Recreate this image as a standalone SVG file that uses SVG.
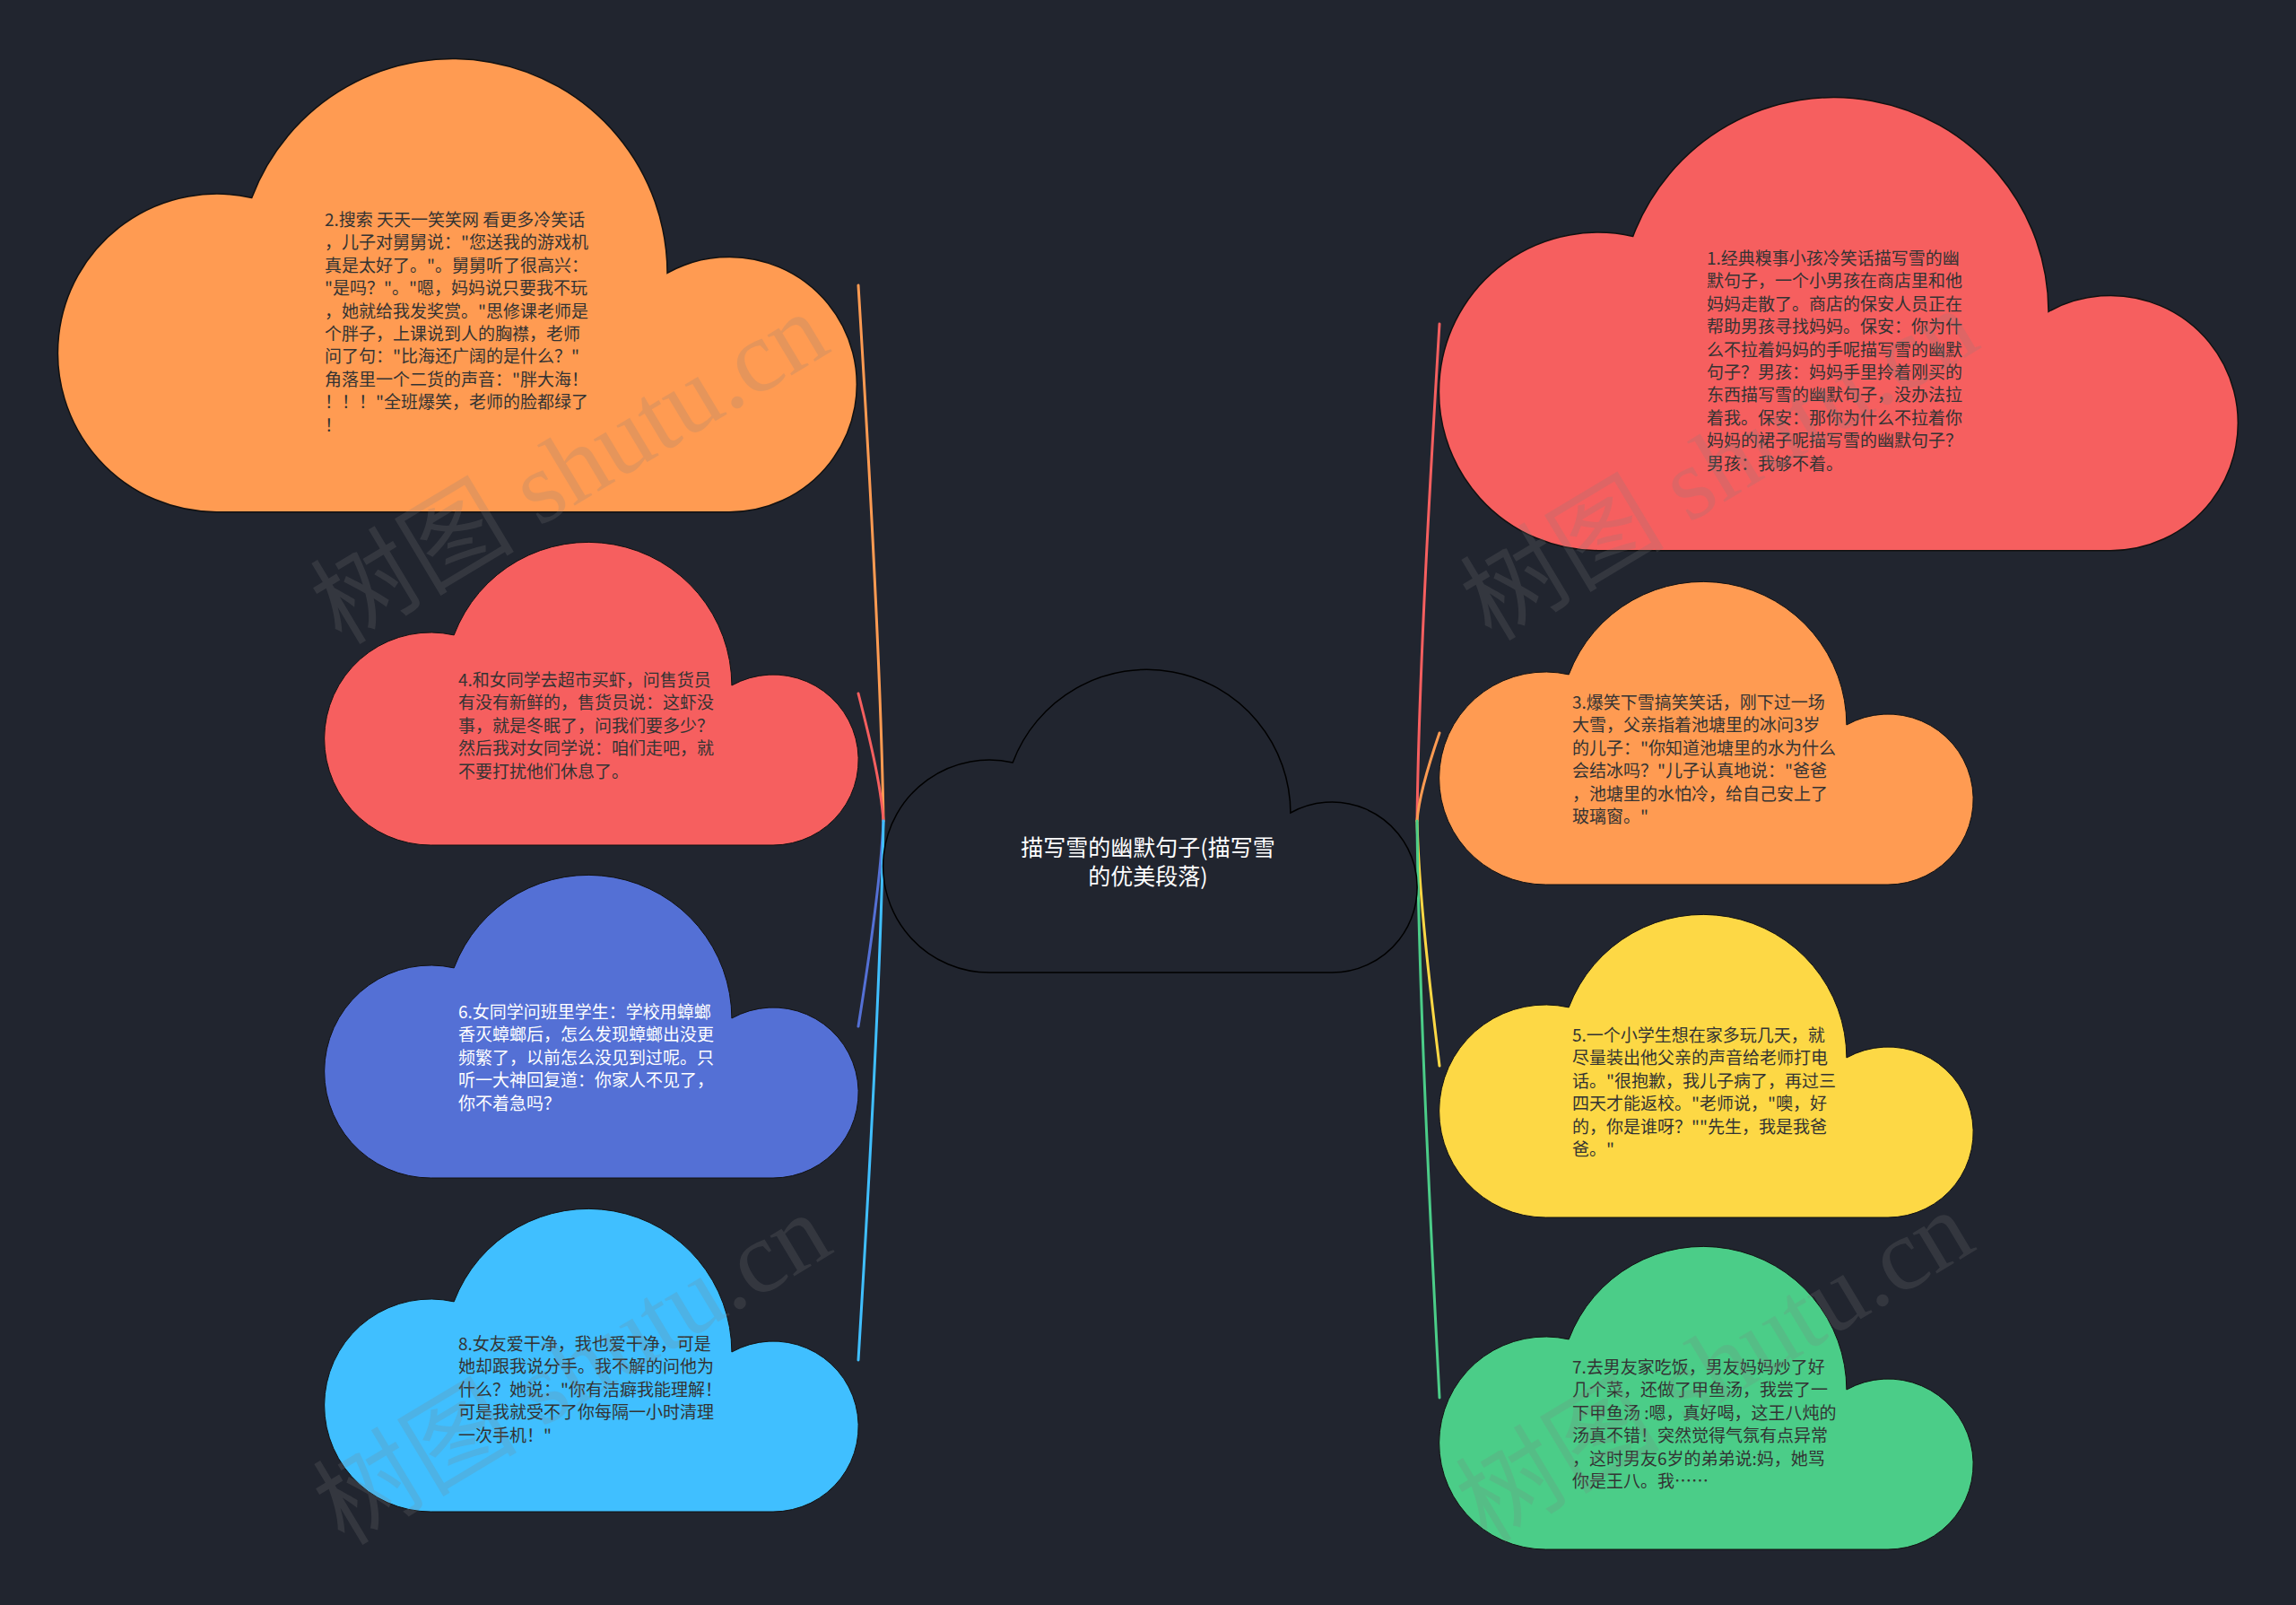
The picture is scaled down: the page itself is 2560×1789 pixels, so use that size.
<svg xmlns="http://www.w3.org/2000/svg" xmlns:xlink="http://www.w3.org/1999/xlink" width="2560" height="1789" viewBox="0 0 2560 1789">
<style>
.bg{fill:#21252f}
.cl{stroke:#111;stroke-width:1;vector-effect:non-scaling-stroke}
.orange{fill:#ff9b52}
.red{fill:#f65f5f}
.blue{fill:#5470d5}
.lblue{fill:#40bfff}
.yellow{fill:#fdd845}
.green{fill:#4bcd88}
.center{fill:#21252f;stroke:#000;stroke-width:1.5}
.t{font-family:"Noto Sans CJK SC","Noto Sans",sans-serif;font-size:19px;fill:#333}
.tw{fill:#fff}
.tc{font-family:"Noto Sans CJK SC","Noto Sans",sans-serif;font-size:25px;fill:#fff;text-anchor:middle}
.ln{fill:none;stroke-width:3;stroke-linecap:round}
.wm{font-family:"Liberation Serif","Noto Sans CJK SC",serif;font-size:114px;fill:#808080;opacity:0.2}
</style>
<defs>
<path id="cloud" d="M118.5 338 A118.5 118.5 0 1 1 144.2 103.9 A160 160 0 0 1 453.9 160 A95 95 0 1 1 500 338 Z"/>
</defs>
<rect class="bg" x="0" y="0" width="2560" height="1789"/>

<g id="connectors">
<path class="ln" stroke="#ff9b52" d="M985 915 C982 736 968 497 957 318"/>
<path class="ln" stroke="#f65f5f" d="M985 915 C982 872 968 816 957 773"/>
<path class="ln" stroke="#5470d5" d="M985 915 C982 984 968 1075 957 1144"/>
<path class="ln" stroke="#40bfff" d="M985 915 C982 1095 968 1336 957 1516"/>
<path class="ln" stroke="#f65f5f" d="M1580 915 C1582 749 1595 527 1605 361"/>
<path class="ln" stroke="#ff9b52" d="M1580 915 C1582 886 1595 846 1605 817"/>
<path class="ln" stroke="#fdd845" d="M1580 915 C1582 997 1595 1106 1605 1188"/>
<path class="ln" stroke="#4bcd88" d="M1580 915 C1582 1108 1595 1365 1605 1558"/>
</g>

<g id="center">
<use xlink:href="#cloud" href="#cloud" class="center" transform="translate(985,746)"/>
<text class="tc" x="1280" y="954">描写雪的幽默句子(描写雪</text>
<text class="tc" x="1280" y="986">的优美段落)</text>
</g>

<g id="node2">
<use xlink:href="#cloud" href="#cloud" class="orange cl" transform="translate(65,65) scale(1.496)"/>
<text class="t" x="362" y="252">2.搜索 天天一笑笑网 看更多冷笑话</text>
<text class="t" x="362" y="277.4">，儿子对舅舅说："您送我的游戏机</text>
<text class="t" x="362" y="302.8">真是太好了。"。舅舅听了很高兴：</text>
<text class="t" x="362" y="328.2">"是吗？"。"嗯，妈妈说只要我不玩</text>
<text class="t" x="362" y="353.6">，她就给我发奖赏。"思修课老师是</text>
<text class="t" x="362" y="379">个胖子，上课说到人的胸襟，老师</text>
<text class="t" x="362" y="404.4">问了句："比海还广阔的是什么？"</text>
<text class="t" x="362" y="429.8">角落里一个二货的声音："胖大海！</text>
<text class="t" x="362" y="455.2">！！！"全班爆笑，老师的脸都绿了</text>
<text class="t" x="362" y="480.6">！</text>
</g>

<g id="node1">
<use xlink:href="#cloud" href="#cloud" class="red cl" transform="translate(1605,108) scale(1.496)"/>
<text class="t" x="1903" y="295">1.经典糗事小孩冷笑话描写雪的幽</text>
<text class="t" x="1903" y="320.4">默句子，一个小男孩在商店里和他</text>
<text class="t" x="1903" y="345.8">妈妈走散了。商店的保安人员正在</text>
<text class="t" x="1903" y="371.2">帮助男孩寻找妈妈。保安：你为什</text>
<text class="t" x="1903" y="396.6">么不拉着妈妈的手呢描写雪的幽默</text>
<text class="t" x="1903" y="422">句子？男孩：妈妈手里拎着刚买的</text>
<text class="t" x="1903" y="447.4">东西描写雪的幽默句子，没办法拉</text>
<text class="t" x="1903" y="472.8">着我。保安：那你为什么不拉着你</text>
<text class="t" x="1903" y="498.2">妈妈的裙子呢描写雪的幽默句子？</text>
<text class="t" x="1903" y="523.6">男孩：我够不着。</text>
</g>

<g id="node4">
<use xlink:href="#cloud" href="#cloud" class="red cl" transform="translate(362,604)"/>
<text class="t" x="511" y="765">4.和女同学去超市买虾，问售货员</text>
<text class="t" x="511" y="790.4">有没有新鲜的，售货员说：这虾没</text>
<text class="t" x="511" y="815.8">事，就是冬眠了，问我们要多少？</text>
<text class="t" x="511" y="841.2">然后我对女同学说：咱们走吧，就</text>
<text class="t" x="511" y="866.6">不要打扰他们休息了。</text>
</g>

<g id="node3">
<use xlink:href="#cloud" href="#cloud" class="orange cl" transform="translate(1605,648)"/>
<text class="t" x="1753" y="790">3.爆笑下雪搞笑笑话，刚下过一场</text>
<text class="t" x="1753" y="815.4">大雪，父亲指着池塘里的冰问3岁</text>
<text class="t" x="1753" y="840.8">的儿子："你知道池塘里的水为什么</text>
<text class="t" x="1753" y="866.2">会结冰吗？"儿子认真地说："爸爸</text>
<text class="t" x="1753" y="891.6">，池塘里的水怕冷，给自己安上了</text>
<text class="t" x="1753" y="917">玻璃窗。"</text>
</g>

<g id="node6">
<use xlink:href="#cloud" href="#cloud" class="blue cl" transform="translate(362,975)"/>
<text class="t tw" x="511" y="1135">6.女同学问班里学生：学校用蟑螂</text>
<text class="t tw" x="511" y="1160.4">香灭蟑螂后，怎么发现蟑螂出没更</text>
<text class="t tw" x="511" y="1185.8">频繁了，以前怎么没见到过呢。只</text>
<text class="t tw" x="511" y="1211.2">听一大神回复道：你家人不见了，</text>
<text class="t tw" x="511" y="1236.6">你不着急吗？</text>
</g>

<g id="node5">
<use xlink:href="#cloud" href="#cloud" class="yellow cl" transform="translate(1605,1019)"/>
<text class="t" x="1753" y="1161">5.一个小学生想在家多玩几天，就</text>
<text class="t" x="1753" y="1186.4">尽量装出他父亲的声音给老师打电</text>
<text class="t" x="1753" y="1211.8">话。"很抱歉，我儿子病了，再过三</text>
<text class="t" x="1753" y="1237.2">四天才能返校。"老师说，"噢，好</text>
<text class="t" x="1753" y="1262.6">的，你是谁呀？""先生，我是我爸</text>
<text class="t" x="1753" y="1288">爸。"</text>
</g>

<g id="node8">
<use xlink:href="#cloud" href="#cloud" class="lblue cl" transform="translate(362,1347)"/>
<text class="t" x="511" y="1505">8.女友爱干净，我也爱干净，可是</text>
<text class="t" x="511" y="1530.4">她却跟我说分手。我不解的问他为</text>
<text class="t" x="511" y="1555.8">什么？她说："你有洁癖我能理解！</text>
<text class="t" x="511" y="1581.2">可是我就受不了你每隔一小时清理</text>
<text class="t" x="511" y="1606.6">一次手机！"</text>
</g>

<g id="node7">
<use xlink:href="#cloud" href="#cloud" class="green cl" transform="translate(1605,1389)"/>
<text class="t" x="1753" y="1531">7.去男友家吃饭，男友妈妈炒了好</text>
<text class="t" x="1753" y="1556.4">几个菜，还做了甲鱼汤，我尝了一</text>
<text class="t" x="1753" y="1581.8">下甲鱼汤 :嗯，真好喝，这王八炖的</text>
<text class="t" x="1753" y="1607.2">汤真不错！突然觉得气氛有点异常</text>
<text class="t" x="1753" y="1632.6">，这时男友6岁的弟弟说:妈，她骂</text>
<text class="t" x="1753" y="1658">你是王八。我……</text>
</g>

<g id="watermarks">
<text class="wm" text-anchor="middle" transform="translate(655,555) rotate(-31)">树图 shutu.cn</text>
<text class="wm" text-anchor="middle" transform="translate(1937,551) rotate(-31)">树图 shutu.cn</text>
<text class="wm" text-anchor="middle" transform="translate(658,1559) rotate(-31)">树图 shutu.cn</text>
<text class="wm" text-anchor="middle" transform="translate(1932,1556) rotate(-31)">树图 shutu.cn</text>
</g>
</svg>
